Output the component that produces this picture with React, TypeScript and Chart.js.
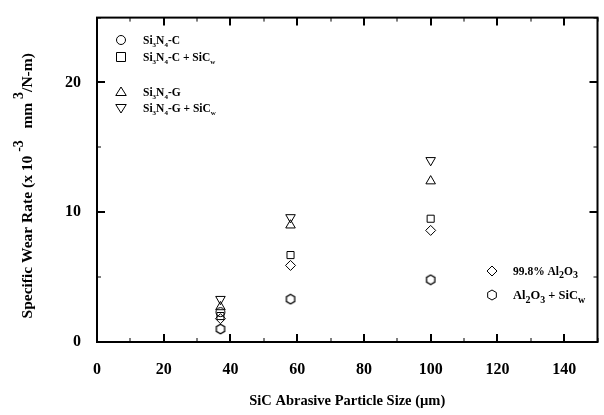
import React, { useEffect, useRef } from "react";
import { Chart, registerables } from "chart.js";
Chart.register(...registerables);

// ---- data ----
const circleSizes = [37];
const si3n4C = [2.3];
const particleSizes = [37, 58, 100];
const si3n4CSiCw = [2.0, 6.7, 9.5];
const si3n4G = [2.7, 9.0, 12.4];
const si3n4GSiCw = [3.3, 9.6, 14.0];
const alumina = [1.8, 5.9, 8.6];
const aluminaSiCw = [1.0, 3.3, 4.8];

const xTicks = [0, 20, 40, 60, 80, 100, 120, 140];
const yTicks = [0, 10, 20];

const FONT = '"Liberation Serif", "Times New Roman", serif';

function hexPath(ctx: CanvasRenderingContext2D, x: number, y: number, r: number) {
  ctx.beginPath();
  for (let i = 0; i < 6; i++) {
    const a = (Math.PI / 3) * i - Math.PI / 2;
    const px = x + r * Math.cos(a);
    const py = y + r * Math.sin(a);
    if (i === 0) ctx.moveTo(px, py);
    else ctx.lineTo(px, py);
  }
  ctx.closePath();
}

function makeHexImage(): HTMLCanvasElement {
  const c = document.createElement("canvas");
  c.width = 12;
  c.height = 12;
  const ctx = c.getContext("2d")!;
  ctx.strokeStyle = "#000";
  ctx.lineWidth = 1.3;
  hexPath(ctx, 6, 6, 4.8);
  ctx.stroke();
  return c;
}

function drawMarker(ctx: CanvasRenderingContext2D, kind: string, x: number, y: number, r: number) {
  ctx.save();
  ctx.strokeStyle = "#000";
  ctx.lineWidth = 1;
  ctx.beginPath();
  if (kind === "circle") {
    ctx.arc(x, y, r * 0.9, 0, Math.PI * 2);
  } else if (kind === "rect") {
    const s = r * 0.9;
    ctx.rect(x - s, y - s, 2 * s, 2 * s);
  } else if (kind === "tri") {
    ctx.moveTo(x, y - r);
    ctx.lineTo(x + r * 1.05, y + r * 0.7);
    ctx.lineTo(x - r * 1.05, y + r * 0.7);
    ctx.closePath();
  } else if (kind === "tridown") {
    ctx.moveTo(x, y + r);
    ctx.lineTo(x + r * 1.05, y - r * 0.7);
    ctx.lineTo(x - r * 1.05, y - r * 0.7);
    ctx.closePath();
  } else if (kind === "diamond") {
    ctx.moveTo(x, y - r);
    ctx.lineTo(x + r, y);
    ctx.lineTo(x, y + r);
    ctx.lineTo(x - r, y);
    ctx.closePath();
  } else if (kind === "hex") {
    hexPath(ctx, x, y, r);
  }
  ctx.stroke();
  ctx.restore();
}

type Seg = { t: string; sub?: boolean; sup?: boolean };

function richWidth(ctx: CanvasRenderingContext2D, segs: Seg[], size: number, subSize: number) {
  let w = 0;
  ctx.save();
  for (const s of segs) {
    ctx.font = `bold ${s.sub || s.sup ? subSize : size}px ${FONT}`;
    w += ctx.measureText(s.t).width;
  }
  ctx.restore();
  return w;
}

function drawRich(ctx: CanvasRenderingContext2D, segs: Seg[], x: number, y: number, size: number, subSize: number) {
  let cx = x;
  ctx.save();
  ctx.fillStyle = "#000";
  ctx.textBaseline = "alphabetic";
  ctx.textAlign = "left";
  for (const s of segs) {
    if (s.sub || s.sup) {
      ctx.font = `bold ${subSize}px ${FONT}`;
      const dy = s.sub ? size * 0.28 : -size * 0.55;
      ctx.fillText(s.t, cx, y + dy);
      cx += ctx.measureText(s.t).width;
    } else {
      ctx.font = `bold ${size}px ${FONT}`;
      ctx.fillText(s.t, cx, y);
      cx += ctx.measureText(s.t).width;
    }
  }
  ctx.restore();
}

const yTitle: Seg[] = [
  { t: "Specific Wear Rate (x 10 " },
  { t: "-3", sup: true },
  { t: "   mm " },
  { t: "3", sup: true },
  { t: "/N-m)" },
];

const frameAndLegend = {
  id: "frameAndLegend",
  afterDraw(chart: any) {
    const { ctx, chartArea } = chart;
    const xs = chart.scales.x;
    const ys = chart.scales.y;
    const { left, right, top, bottom } = chartArea;
    ctx.save();
    ctx.strokeStyle = "#000";
    ctx.lineWidth = 2;
    ctx.strokeRect(left, top, right - left, bottom - top);
    for (let v = 0; v <= 150; v += 10) {
      const px = Math.round(xs.getPixelForValue(v));
      const len = v % 20 === 0 ? 8 : 4;
      ctx.lineWidth = v % 20 === 0 ? 2 : 1;
      ctx.beginPath();
      ctx.moveTo(px, bottom);
      ctx.lineTo(px, bottom - len);
      ctx.moveTo(px, top);
      ctx.lineTo(px, top + len);
      ctx.stroke();
    }
    for (let v = 0; v <= 25; v += 5) {
      const py = Math.round(ys.getPixelForValue(v));
      const len = v % 10 === 0 ? 8 : 4;
      ctx.lineWidth = v % 10 === 0 ? 2 : 1;
      ctx.beginPath();
      ctx.moveTo(left, py);
      ctx.lineTo(left + len, py);
      ctx.moveTo(right, py);
      ctx.lineTo(right - len, py);
      ctx.stroke();
    }
    ctx.restore();

    // y-axis title (rotated, with superscripts)
    ctx.save();
    const midY = (top + bottom) / 2 + 6;
    ctx.translate(27, midY);
    ctx.rotate(-Math.PI / 2);
    const w = richWidth(ctx, yTitle, 15.5, 14);
    drawRich(ctx, yTitle, -w / 2, 5, 15.5, 14);
    ctx.restore();

    // top-left legend
    const mx = 121;
    const tx = 143;
    drawMarker(ctx, "circle", mx, 40, 5);
    drawRich(ctx, [{ t: "Si" }, { t: "3", sub: true }, { t: "N" }, { t: "4", sub: true }, { t: "-C" }], tx, 44, 11.5, 7);
    drawMarker(ctx, "rect", mx, 57, 5);
    drawRich(ctx, [{ t: "Si" }, { t: "3", sub: true }, { t: "N" }, { t: "4", sub: true }, { t: "-C + SiC" }, { t: "w", sub: true }], tx, 61, 11.5, 7);
    drawMarker(ctx, "tri", mx, 92, 5);
    drawRich(ctx, [{ t: "Si" }, { t: "3", sub: true }, { t: "N" }, { t: "4", sub: true }, { t: "-G" }], tx, 96, 11.5, 7);
    drawMarker(ctx, "tridown", mx, 108, 5);
    drawRich(ctx, [{ t: "Si" }, { t: "3", sub: true }, { t: "N" }, { t: "4", sub: true }, { t: "-G + SiC" }, { t: "w", sub: true }], tx, 112, 11.5, 7);

    // bottom-right legend
    drawMarker(ctx, "diamond", 492, 271, 5);
    drawRich(ctx, [{ t: "99.8% Al" }, { t: "2", sub: true }, { t: "O" }, { t: "3", sub: true }], 513, 275, 11.5, 10);
    drawMarker(ctx, "hex", 492, 295, 5);
    drawRich(ctx, [{ t: "Al" }, { t: "2", sub: true }, { t: "O" }, { t: "3", sub: true }, { t: " + SiC" }, { t: "w", sub: true }], 513, 299, 12.5, 10);
  },
};

export default function App() {
  const ref = useRef<HTMLCanvasElement | null>(null);
  useEffect(() => {
    document.body.style.margin = "0";
    const hex = makeHexImage();
    const pts = (xs: number[], ys: number[]) => xs.map((x, i) => ({ x, y: ys[i] }));
    const base = {
      showLine: false,
      borderColor: "#000",
      backgroundColor: "rgba(0,0,0,0)",
      borderWidth: 1,
      pointRadius: 5,
    };
    const chart = new Chart(ref.current!, {
      type: "scatter",
      data: {
        datasets: [
          { ...base, label: "Si3N4-C", data: pts(circleSizes, si3n4C), pointStyle: "circle", pointRadius: 4.5 },
          { ...base, label: "Si3N4-C + SiCw", data: pts(particleSizes, si3n4CSiCw), pointStyle: "rect", pointRadius: 5 },
          { ...base, label: "Si3N4-G", data: pts(particleSizes, si3n4G), pointStyle: "triangle", pointRadius: 5.5 },
          { ...base, label: "Si3N4-G + SiCw", data: pts(particleSizes, si3n4GSiCw), pointStyle: "triangle", pointRotation: 180, pointRadius: 5.5 },
          { ...base, label: "99.8% Al2O3", data: pts(particleSizes, alumina), pointStyle: "rectRot", pointRadius: 5 },
          { ...base, label: "Al2O3 + SiCw", data: pts(particleSizes, aluminaSiCw), pointStyle: hex as any },
        ] as any,
      },
      options: {
        responsive: false,
        animation: false,
        devicePixelRatio: 1,
        layout: { padding: { top: 14, right: 2, left: 0, bottom: 0 } },
        plugins: { legend: { display: false }, tooltip: { enabled: false } },
        scales: {
          x: {
            type: "linear",
            min: 0,
            max: 150,
            grid: { display: false },
            border: { display: false },
            afterFit: (s: any) => {
              s.height = 73;
            },
            afterBuildTicks: (s: any) => {
              s.ticks = xTicks.map((v) => ({ value: v }));
            },
            ticks: {
              padding: 10,
              color: "#000",
              font: { family: FONT, size: 16, weight: "bold" },
              maxRotation: 0,
            },
            title: {
              display: true,
              text: "SiC Abrasive Particle Size (\u00b5m)",
              color: "#000",
              font: { family: FONT, size: 14.5, weight: "bold" },
              padding: { top: 0, bottom: 5 },
            },
          },
          y: {
            type: "linear",
            min: 0,
            max: 25,
            grid: { display: false },
            border: { display: false },
            afterFit: (s: any) => {
              s.width = 97;
            },
            afterBuildTicks: (s: any) => {
              s.ticks = yTicks.map((v) => ({ value: v }));
            },
            ticks: {
              padding: 8,
              color: "#000",
              font: { family: FONT, size: 16, weight: "bold" },
            },
            title: { display: false },
          },
        },
      },
      plugins: [frameAndLegend],
    } as any);
    return () => chart.destroy();
  }, []);
  return <canvas ref={ref} width={604} height={415} style={{ display: "block" }} />;
}
